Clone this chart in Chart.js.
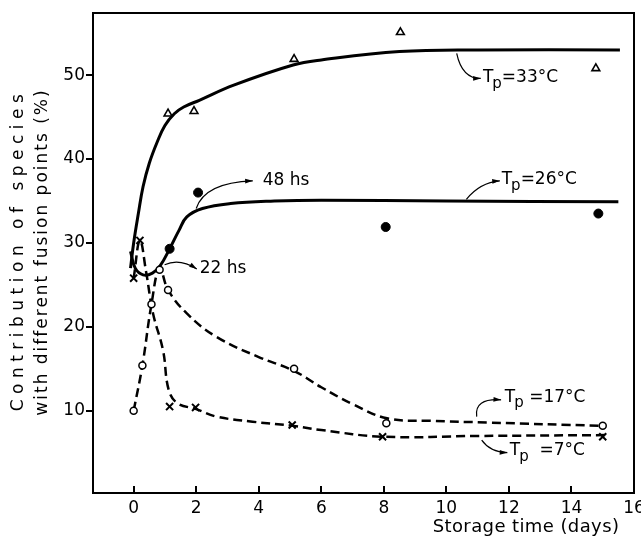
<!DOCTYPE html>
<html>
<head>
<meta charset="utf-8">
<script src="https://cdn.jsdelivr.net/npm/chart.js@4/dist/chart.umd.min.js"></script>
<style>
    html, body { margin: 0; padding: 0; background: #fff; }
</style>
</head>
<body>
<canvas id="chart" width="641" height="544"></canvas>
<script>
// Measured points (storage time in days, contribution in %)
const days33 = [1.1, 1.93, 5.13, 8.53, 14.78];
const vals33 = [45.4, 45.7, 51.9, 55.1, 50.8];
const days26 = [1.15, 2.06, 8.06, 14.86];
const vals26 = [29.3, 36.0, 31.9, 33.5];
const days17 = [0, 0.28, 0.57, 0.83, 1.1, 5.13, 8.08, 15.0];
const vals17 = [10, 15.4, 22.7, 26.8, 24.4, 15.0, 8.5, 8.2];
const days7 = [0, 0.2, 1.15, 1.98, 5.07, 7.96, 15.0];
const vals7 = [25.8, 30.3, 10.5, 10.4, 8.3, 6.9, 6.9];

// Hand-drawn fitted curves
const fit33X = [-0.1, 0, 0.15, 0.3, 0.5, 0.75, 1.0, 1.3, 1.6, 2.1, 3.2, 5.1, 6, 8.5, 11, 15.55];
const fit33Y = [27, 30, 33.5, 36.7, 39.5, 42, 44, 45.4, 46.2, 47, 48.8, 51.2, 51.8, 52.8, 53, 53];
const fit26X = [-0.1, 0.05, 0.3, 0.6, 0.85, 1.15, 1.45, 1.7, 2.2, 3.1, 4.5, 6, 10, 15.5];
const fit26Y = [29, 27, 26.2, 26.4, 27.3, 29.3, 31.5, 33.1, 34.1, 34.7, 35.0, 35.1, 35, 34.9];
const fit17X = [0, 0.28, 0.57, 0.83, 1.1, 1.7, 2.65, 4.0, 5.1, 6.0, 7.0, 8.1, 9.5, 11.3, 15.0];
const fit17Y = [10, 15.4, 22.7, 27, 24.4, 21.6, 18.8, 16.4, 14.8, 12.8, 10.8, 9.1, 8.8, 8.6, 8.2];
const fit7X = [0, 0.2, 0.4, 0.62, 0.94, 1.12, 1.4, 2, 2.65, 3.8, 5.1, 6, 8, 11, 15.1];
const fit7Y = [25.8, 30.3, 26.5, 21.6, 17.2, 12.5, 10.9, 10.2, 9.3, 8.7, 8.2, 7.7, 6.9, 7.0, 7.1];

// Tick labels
const xTicks = [0, 2, 4, 6, 8, 10, 12, 14, 16];
const yTicks = [10, 20, 30, 40, 50];

const FONT = "'DejaVu Sans', sans-serif";

function toPoints(xs, ys) {
    return xs.map((x, i) => ({ x: x, y: ys[i] }));
}

function markers(label, xs, ys, style, radius, fill, width) {
    return {
        label: label,
        data: toPoints(xs, ys),
        showLine: false,
        pointStyle: style,
        pointRadius: radius,
        pointBackgroundColor: fill,
        pointBorderColor: '#000',
        pointBorderWidth: width,
        order: 0
    };
}

function curve(label, xs, ys, dashed) {
    return {
        label: label,
        data: toPoints(xs, ys),
        showLine: true,
        borderColor: '#000',
        borderWidth: dashed ? 2.5 : 3,
        borderDash: dashed ? [9, 5] : [],
        tension: 0.4,
        pointRadius: 0,
        order: 1
    };
}

// Annotations: labels with small curved arrows (in data units)
const notes = [
    { main: 'T', sub: 'p', rest: '=33°C', tx: 11.17, ty: 49.7, from: [10.33, 52.6], ctrl: [10.5, 49.6], to: [11.1, 49.6] },
    { main: 'T', sub: 'p', rest: '=26°C', tx: 11.77, ty: 37.5, from: [10.64, 35.2], ctrl: [11.07, 37.2], to: [11.71, 37.4] },
    { main: '48 hs', sub: '', rest: '', tx: 4.13, ty: 37.4, from: [2.0, 34.1], ctrl: [2.27, 37.2], to: [3.81, 37.4] },
    { main: '22 hs', sub: '', rest: '', tx: 2.11, ty: 26.9, from: [0.99, 27.4], ctrl: [1.47, 28.2], to: [2.02, 26.9] },
    { main: 'T', sub: 'p', rest: ' =17°C', tx: 11.87, ty: 11.6, from: [10.97, 9.3], ctrl: [10.88, 11.5], to: [11.75, 11.3] },
    { main: 'T', sub: 'p', rest: '  =7°C', tx: 12.03, ty: 5.2, from: [11.13, 6.5], ctrl: [11.39, 5.1], to: [11.95, 5.0] }
];

const framePlugin = {
    id: 'frame',
    afterDraw(chart) {
        const ctx = chart.ctx;
        const area = chart.chartArea;
        const xs = chart.scales.x;
        const ys = chart.scales.y;
        ctx.save();

        // box round the plot
        ctx.strokeStyle = '#000';
        ctx.lineWidth = 2;
        ctx.strokeRect(area.left, area.top, area.right - area.left, area.bottom - area.top);

        // inward tick marks on the time axis
        xTicks.forEach(v => {
            const px = Math.round(xs.getPixelForValue(v));
            ctx.beginPath();
            ctx.moveTo(px, area.bottom);
            ctx.lineTo(px, area.bottom - 7);
            ctx.stroke();
        });

        // arrows and labels
        ctx.fillStyle = '#000';
        ctx.lineWidth = 1.2;
        notes.forEach(n => {
            const fx = xs.getPixelForValue(n.from[0]), fy = ys.getPixelForValue(n.from[1]);
            const cx = xs.getPixelForValue(n.ctrl[0]), cy = ys.getPixelForValue(n.ctrl[1]);
            const tx = xs.getPixelForValue(n.to[0]), ty = ys.getPixelForValue(n.to[1]);
            ctx.beginPath();
            ctx.moveTo(fx, fy);
            ctx.quadraticCurveTo(cx, cy, tx, ty);
            ctx.stroke();
            const ang = Math.atan2(ty - cy, tx - cx);
            ctx.beginPath();
            ctx.moveTo(tx, ty);
            ctx.lineTo(tx - 8 * Math.cos(ang - 0.3), ty - 8 * Math.sin(ang - 0.3));
            ctx.lineTo(tx - 8 * Math.cos(ang + 0.3), ty - 8 * Math.sin(ang + 0.3));
            ctx.closePath();
            ctx.fill();

            let x = xs.getPixelForValue(n.tx);
            const y = ys.getPixelForValue(n.ty);
            ctx.textBaseline = 'middle';
            ctx.textAlign = 'left';
            ctx.font = '17px ' + FONT;
            ctx.fillText(n.main, x, y);
            x += ctx.measureText(n.main).width;
            if (n.sub) {
                ctx.font = '15px ' + FONT;
                ctx.fillText(n.sub, x - 1, y + 6);
                x += ctx.measureText(n.sub).width - 1;
                ctx.font = '17px ' + FONT;
                ctx.fillText(n.rest, x, y);
            }
        });

        // axis titles
        ctx.textAlign = 'center';
        ctx.textBaseline = 'middle';
        ctx.font = '18px ' + FONT;
        ctx.letterSpacing = '0.4px';
        ctx.fillText('Storage time (days)', area.right - 108, area.bottom + 34);

        ctx.translate(0, (area.top + area.bottom) / 2);
        ctx.rotate(-Math.PI / 2);
        ctx.font = '17px ' + FONT;
        ctx.letterSpacing = '5.5px';
        ctx.fillText('Contribution of species', 3, 19);
        ctx.letterSpacing = '2px';
        ctx.fillText('with different fusion points (%)', 1, 43);
        ctx.restore();
    }
};

new Chart(document.getElementById('chart'), {
    type: 'scatter',
    data: {
        datasets: [
            markers('33 °C', days33, vals33, 'triangle', 4.5, '#fff', 1.6),
            markers('26 °C', days26, vals26, 'circle', 4.5, '#000', 1),
            markers('17 °C', days17, vals17, 'circle', 3.5, '#fff', 1.5),
            markers('7 °C', days7, vals7, 'crossRot', 5, '#000', 2),
            curve('fit 33 °C', fit33X, fit33Y, false),
            curve('fit 26 °C', fit26X, fit26Y, false),
            curve('fit 17 °C', fit17X, fit17Y, true),
            curve('fit 7 °C', fit7X, fit7Y, true)
        ]
    },
    options: {
        responsive: false,
        animation: false,
        layout: { padding: { top: 13, right: 7 } },
        plugins: {
            legend: { display: false },
            tooltip: { enabled: false }
        },
        scales: {
            x: {
                type: 'linear',
                min: -1.3,
                max: 16,
                afterBuildTicks: scale => { scale.ticks = xTicks.map(v => ({ value: v })); },
                afterFit: scale => { scale.height = 51; scale.paddingRight = 0; scale.paddingLeft = 0; },
                grid: { display: false, drawTicks: false },
                border: { display: false },
                ticks: { color: '#000', padding: 5, font: { family: FONT, size: 17 } }
            },
            y: {
                type: 'linear',
                min: 0.2,
                max: 57.4,
                afterBuildTicks: scale => { scale.ticks = yTicks.map(v => ({ value: v })); },
                afterFit: scale => { scale.width = 93; scale.paddingTop = 0; scale.paddingBottom = 0; },
                grid: { drawOnChartArea: false, drawTicks: true, tickLength: 7, tickColor: '#000', lineWidth: 2 },
                border: { display: false },
                ticks: { color: '#000', padding: 1, font: { family: FONT, size: 17 } }
            }
        }
    },
    plugins: [framePlugin]
});
</script>
</body>
</html>
